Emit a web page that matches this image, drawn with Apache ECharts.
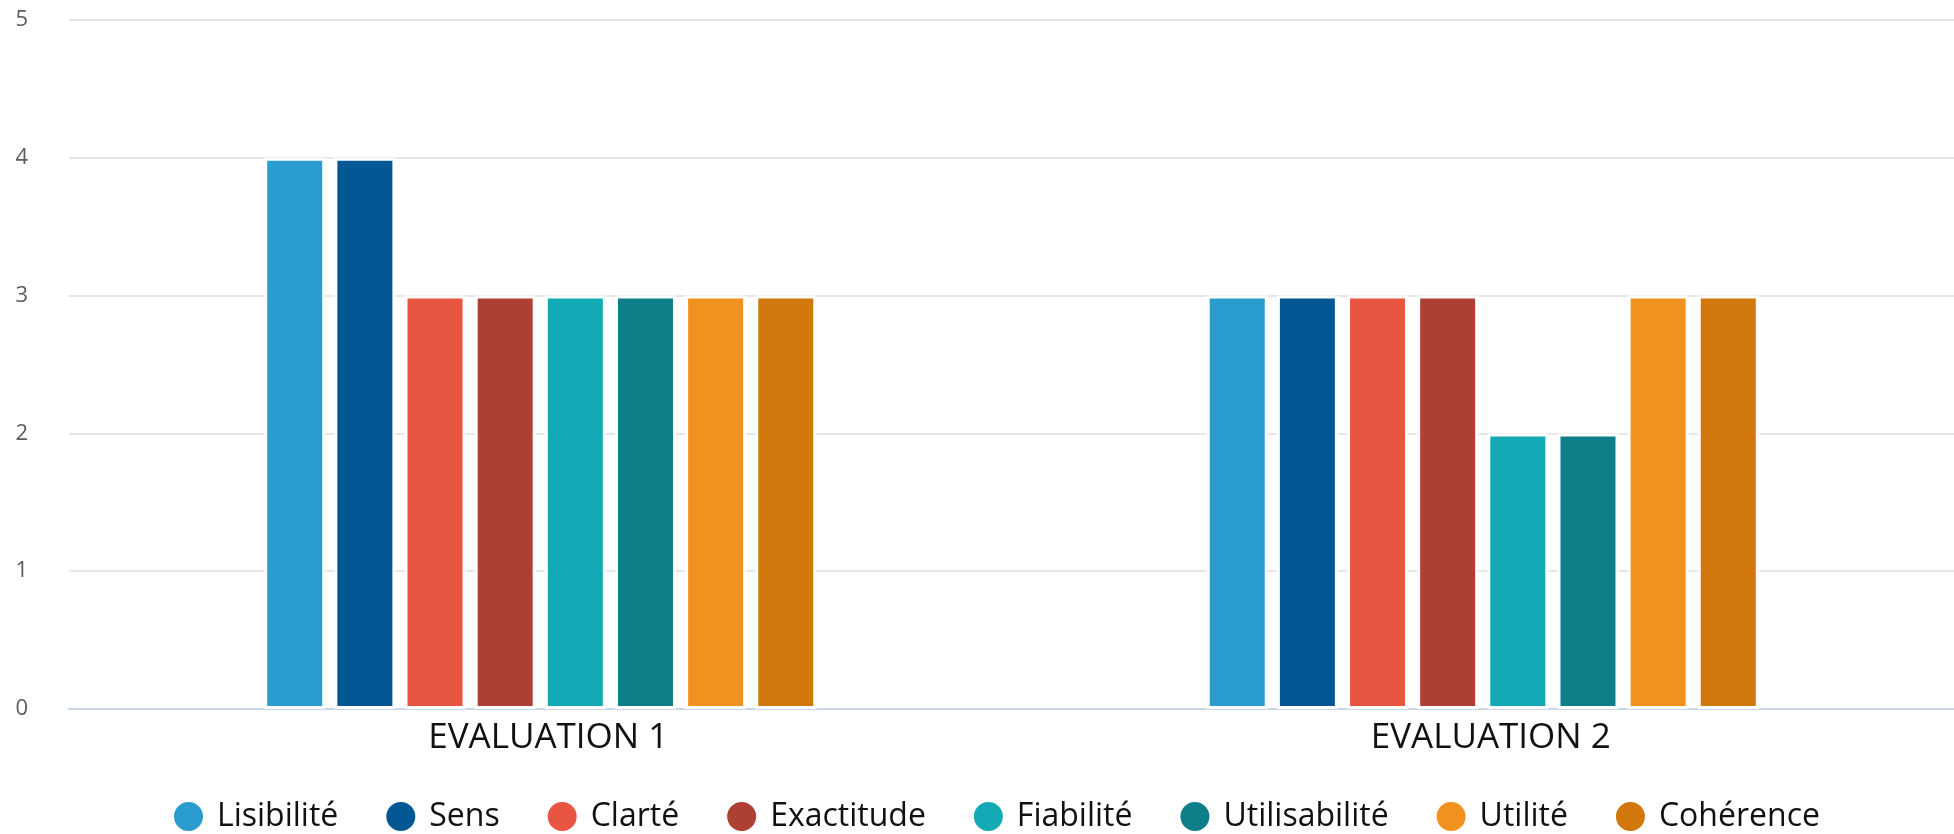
<!DOCTYPE html>
<html>
<head>
<meta charset="utf-8">
<script src="https://cdn.jsdelivr.net/npm/echarts@6/dist/echarts.min.js"></script>
<style>
  html, body { margin: 0; padding: 0; background: #fff; }
  #chart { width: 1954px; height: 834px; }
</style>
</head>
<body>
<div id="chart"></div>
<script>
// Evaluation scores per criterion
const categories = ['EVALUATION 1', 'EVALUATION 2'];
const seriesNames = ['Lisibilité', 'Sens', 'Clarté', 'Exactitude', 'Fiabilité', 'Utilisabilité', 'Utilité', 'Cohérence'];
const lisibilite = [4, 3];
const sens = [4, 3];
const clarte = [3, 3];
const exactitude = [3, 3];
const fiabilite = [3, 2];
const utilisabilite = [3, 2];
const utilite = [3, 3];
const coherence = [3, 3];
const yTicks = [0, 1, 2, 3, 4, 5];

const seriesValues = [lisibilite, sens, clarte, exactitude, fiabilite, utilisabilite, utilite, coherence];
const colors = ['#2a9dce', '#035893', '#e85642', '#ae4033', '#13a9b5', '#0e7f88', '#f1921e', '#d1770b'];

const fontFamily = '"Open Sans", sans-serif';

const chart = echarts.init(document.getElementById('chart'), null, { renderer: 'canvas' });
chart.setOption({
  animation: false,
  color: colors,
  grid: { left: 69, right: 0, top: 20, bottom: 125, containLabel: false },
  legend: {
    top: 795,
    left: 167,
    padding: 5,
    icon: 'circle',
    itemWidth: 31,
    itemHeight: 31,
    itemGap: 46,
    textStyle: { fontSize: 32, color: '#111', fontFamily: fontFamily, padding: [0, 0, 0, 8] },
    data: seriesNames
  },
  xAxis: {
    type: 'category',
    data: categories,
    axisLine: { lineStyle: { color: '#ccd6eb', width: 2 } },
    axisTick: { show: false },
    axisLabel: { fontSize: 35, color: '#111', fontFamily: fontFamily, margin: 12, padding: [0, 0, 0, 16] }
  },
  yAxis: {
    type: 'value',
    min: yTicks[0],
    max: yTicks[yTicks.length - 1],
    interval: 1,
    axisLine: { show: false },
    axisTick: { show: false },
    splitLine: { lineStyle: { color: '#e6e6e6', width: 2 } },
    axisLabel: { fontSize: 22, color: '#5c5c5c', fontFamily: fontFamily, margin: 41 }
  },
  series: seriesNames.map((name, i) => ({
    name: name,
    type: 'bar',
    data: seriesValues[i],
    barWidth: 61,
    barGap: '15%',
    itemStyle: { borderColor: '#fff', borderWidth: 3 }
  }))
});
</script>
</body>
</html>
